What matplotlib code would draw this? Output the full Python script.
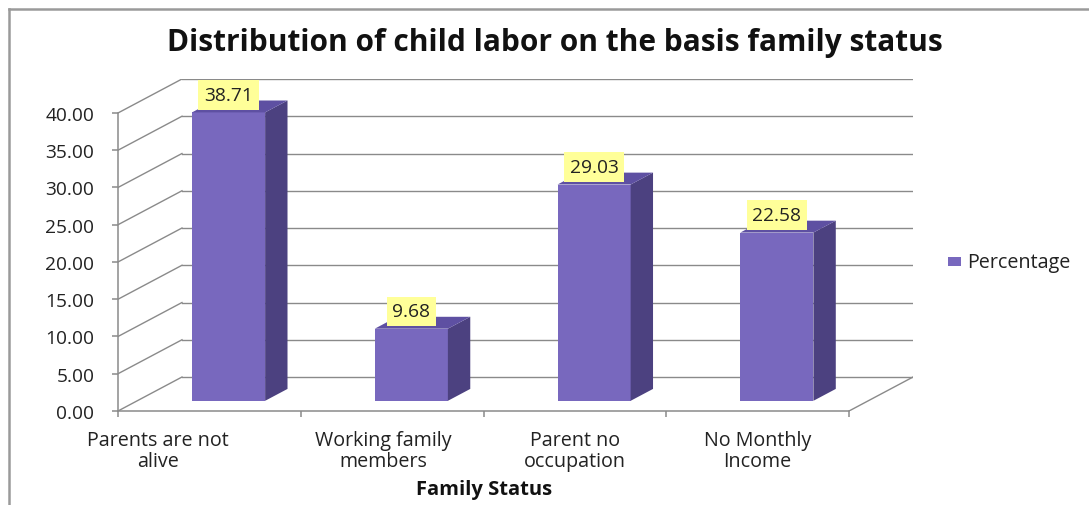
import matplotlib
matplotlib.use("Agg")
import matplotlib.pyplot as plt
from matplotlib.patches import Polygon, Rectangle
from matplotlib.lines import Line2D

# ---- data ----
categories = ["Parents are not\nalive", "Working family\nmembers",
              "Parent no\noccupation", "No Monthly\nIncome"]
percentage = [38.71, 9.68, 29.03, 22.58]
yticks = [0, 5, 10, 15, 20, 25, 30, 35, 40]
series_name = "Percentage"
title = "Distribution of child labor on the basis family status"
xlabel = "Family Status"

# ---- styling / pseudo-3D geometry ----
W, H, DPI = 1089, 506, 100
DX, DY = 0.35, 4.56          # full floor depth (category units, value units)
F0, F1 = 0.30, 0.65          # bar front / back depth fractions
BAR_W = 0.4
FRONT = "#7868BE"
SIDE = "#4C4180"
TOP = "#5E50A2"
GRID = "#8A8A8A"
TXT = "#222222"
FONT = "Open Sans"
label_shift = [-0.28, -0.05, 0.0, 0.0]

fig = plt.figure(figsize=(W / DPI, H / DPI), dpi=DPI)
fig.patch.set_facecolor("white")

left_px, right_px, zero_px, top_px = 118, 913, 412, 80
ax = fig.add_axes([left_px / W, (H - zero_px) / H,
                   (right_px - left_px) / W, (zero_px - top_px) / H])
ymax = max(yticks)
ax.set_xlim(0, len(categories) + DX)
ax.set_ylim(0, ymax + DY)
ax.patch.set_alpha(0)

for s in ("top", "right"):
    ax.spines[s].set_visible(False)
for s in ("left", "bottom"):
    ax.spines[s].set_color(GRID)
    ax.spines[s].set_linewidth(1.1)
ax.spines["left"].set_bounds(0, ymax)
ax.spines["bottom"].set_bounds(0, len(categories))

# back wall gridlines and side-wall diagonals
for v in yticks:
    ax.plot([DX, len(categories) + DX], [v + DY, v + DY], color=GRID, lw=1.0, zorder=1)
    ax.plot([0, DX], [v, v + DY], color=GRID, lw=1.0, zorder=1)
ax.plot([len(categories), len(categories) + DX], [0, DY], color=GRID, lw=1.0, zorder=1)

ax.set_yticks(yticks)
ax.set_yticklabels([f"{v:.2f}" for v in yticks])
ax.set_xticks(range(len(categories) + 1))
ax.set_xticklabels([])
ax.tick_params(axis="both", direction="out", length=4, width=1.1, color=GRID)
ax.tick_params(axis="y", pad=13, labelsize=13.8, labelcolor=TXT)
for t in ax.get_yticklabels():
    t.set_fontfamily(FONT)

centers = [i + 0.5 for i in range(len(categories))]
fx = [c + F0 * DX for c in centers]
ddx, ddy = (F1 - F0) * DX, (F1 - F0) * DY
base = F0 * DY

ax.bar(fx, percentage, width=BAR_W, bottom=base, color=FRONT,
       zorder=3, label=series_name)
for x, v in zip(fx, percentage):
    xl, xr = x - BAR_W / 2, x + BAR_W / 2
    top = base + v
    ax.add_patch(Polygon([(xr, base), (xr, top), (xr + ddx, top + ddy),
                          (xr + ddx, base + ddy)], closed=True,
                         facecolor=SIDE, edgecolor="none", zorder=3))
    ax.add_patch(Polygon([(xl, top), (xr, top), (xr + ddx, top + ddy),
                          (xl + ddx, top + ddy)], closed=True,
                         facecolor=TOP, edgecolor="none", zorder=3))
    ax.annotate(f"{v:.2f}", xy=(x, top), xytext=(0, 12.5), textcoords="offset points",
                ha="center", va="center", fontsize=13.8, family=FONT,
                color=TXT, zorder=5, annotation_clip=False,
                bbox=dict(boxstyle="square,pad=0.3", fc="#FFFF99", ec="none"))

# category labels
for c, lab, sh in zip(centers, categories, label_shift):
    ax.text(c + sh, -2.6, lab, ha="center", va="top", fontsize=14.2,
            family=FONT, color=TXT, linespacing=1.05)

fig.text(484 / W, 1 - 490 / H, xlabel, ha="center", va="center",
         fontsize=14.5, fontweight="bold", family=FONT, color="#111111")
fig.text(555 / W, 1 - 43 / H, title, ha="center", va="center",
         fontsize=21.5, fontweight="bold", family=FONT, color="#111111")

# legend
fig.add_artist(Rectangle((948 / W, 1 - 267 / H), 13 / W, 9 / H,
                         transform=fig.transFigure, facecolor=FRONT, edgecolor="none"))
fig.text(967 / W, 1 - 263 / H, series_name, ha="left", va="center",
         fontsize=14.2, family=FONT, color=TXT)

# chart frame (left and top edges)
fig.add_artist(Line2D([9 / W, 9 / W], [0, 1 - 10 / H], transform=fig.transFigure,
                      color="#9A9A9A", lw=1.8))
fig.add_artist(Line2D([9 / W, 1], [1 - 10 / H, 1 - 10 / H], transform=fig.transFigure,
                      color="#9A9A9A", lw=1.8))

fig.savefig("out.png", dpi=DPI)
